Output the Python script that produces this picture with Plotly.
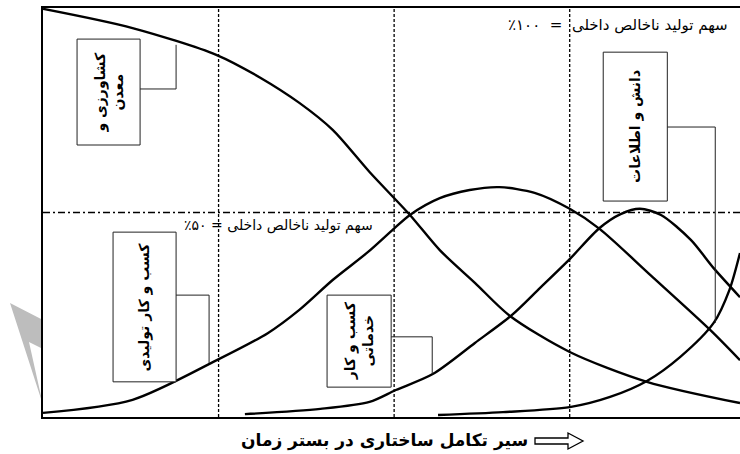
import plotly.graph_objects as go

# stages of structural change on x (0..4), share of GDP (%) on y
X_MAX = 3.97
STAGE_BOUNDS = [1, 2, 3]
HALF_SHARE = 50

agri_x = [0, 0.51, 0.99, 1.24, 1.46, 1.65, 1.86, 2.09, 2.26, 2.46, 2.66, 3.0, 3.44, 3.97]
agri_y = [99.8, 95.1, 88.5, 82.9, 76.8, 70.2, 59.9, 49.4, 40.8, 32.8, 24.7, 15.9, 8.6, 3.4]

manuf_x = [0, 0.51, 0.99, 1.28, 1.46, 1.65, 1.85, 1.99, 2.09, 2.26, 2.43, 2.6, 2.8, 3.0, 3.17, 3.46, 3.8, 3.97]
manuf_y = [1.0, 4.2, 13.9, 20.5, 26.2, 33.5, 40.3, 45.7, 49.4, 53.5, 55.5, 56.2, 54.8, 50.9, 46.0, 34.7, 21.3, 13.9]

serv_x = [1.15, 1.58, 1.86, 2.01, 2.22, 2.46, 2.67, 2.83, 3.0, 3.17, 3.29, 3.4, 3.52, 3.69, 3.82, 3.97]
serv_y = [0.7, 2.0, 3.7, 6.6, 10.5, 18.1, 24.9, 31.5, 38.6, 46.2, 49.6, 50.9, 49.4, 43.3, 36.4, 29.3]

know_x = [2.25, 2.62, 3.0, 3.23, 3.44, 3.63, 3.82, 3.91, 3.97]
know_y = [0.5, 1.2, 2.4, 4.9, 8.8, 14.7, 23.0, 31.1, 40.1]

SERIES = [
    ('کشاورزی و معدن', agri_x, agri_y),
    ('کسب و کار تولیدی', manuf_x, manuf_y),
    ('کسب و کار خدماتی', serv_x, serv_y),
    ('دانش و اطلاعات', know_x, know_y),
]

# label boxes: text, (x0, x1, y0, y1), connector (y on box edge, x of elbow, y on curve)
BOXES = [
    ('کشاورزی و<br>معدن', (0.194, 0.553, 66.5, 92.4), (80.2, 0.758, 91.0)),
    ('کسب و کار تولیدی', (0.399, 0.758, 8.6, 45.2), (29.8, 0.946, 13.2)),
    ('کسب و کار<br>خدماتی', (1.618, 1.983, 7.3, 29.8), (19.6, 2.217, 10.5)),
    ('دانش و اطلاعات', (3.191, 3.556, 52.8, 89.2), (70.9, 3.829, 23.0)),
]

RLM = '\u200f'
FULL_LABEL = 'سهم تولید ناخالص داخلی  =  ۱۰۰٪'
HALF_LABEL = 'سهم تولید ناخالص داخلی = ۵۰٪'
CAPTION = 'سیر تکامل ساختاری در بستر زمان'

FA_FONT = 'DejaVu Sans'

L, R, T, B = 43, 0, 8, 37
W, H = 740, 454


def paper(px, py):
    # pixel position -> paper coords (for decorations outside the axes)
    return (px - L) / (W - L - R), (H - B - py) / (H - T - B)


fig = go.Figure()

for name, xs, ys in SERIES:
    fig.add_trace(go.Scatter(x=xs, y=ys, mode='lines', name=name,
                             line=dict(color='black', width=2.4, shape='spline', smoothing=0.8),
                             hoverinfo='skip', showlegend=False))

for xb in STAGE_BOUNDS:
    fig.add_vline(x=xb, line=dict(color='black', width=1.3, dash='3px,2px'))
fig.add_hline(y=HALF_SHARE, line=dict(color='black', width=1.3, dash='7px,3px,2px,3px'))

for text, (x0, x1, y0, y1), (yc, xe, ye) in BOXES:
    fig.add_shape(type='rect', x0=x0, x1=x1, y0=y0, y1=y1,
                  line=dict(color='#222', width=1), fillcolor='white')
    fig.add_shape(type='path', path=f'M {x1},{yc} L {xe},{yc} L {xe},{ye}',
                  line=dict(color='#222', width=1))
    fig.add_annotation(x=(x0 + x1) / 2, y=(y0 + y1) / 2, text=text, textangle=-90,
                       showarrow=False, font=dict(family=FA_FONT, size=14, color='black', weight='bold'))

fig.add_annotation(x=3.915, y=95.8, xanchor='right', yanchor='middle', text=RLM + FULL_LABEL + RLM,
                   showarrow=False, font=dict(family=FA_FONT, size=15, color='black'))
fig.add_annotation(x=1.89, y=46.9, xanchor='right', yanchor='middle', text=RLM + HALF_LABEL + RLM,
                   showarrow=False, font=dict(family=FA_FONT, size=14, color='black'))

cx, cy = paper(384, 440)
fig.add_annotation(xref='paper', yref='paper', x=cx, y=cy, xanchor='center', yanchor='middle',
                   text=CAPTION, showarrow=False,
                   font=dict(family=FA_FONT, size=17, color='black', weight='bold'))

# hollow arrow after the caption
arrow_px = [(535, 438), (568, 438), (568, 433), (583, 441), (568, 449), (568, 444), (535, 444)]
pts = [paper(a, b) for a, b in arrow_px]
fig.add_shape(type='path', xref='paper', yref='paper',
              path='M ' + ' L '.join(f'{a},{b}' for a, b in pts) + ' Z',
              line=dict(color='black', width=1.3), fillcolor='white')

# grey watermark piece left of the frame
wm_px = [(10, 303), (43, 320), (43, 349), (29, 342), (43, 405)]
pts = [paper(a, b) for a, b in wm_px]
fig.add_shape(type='path', xref='paper', yref='paper', layer='below',
              path='M ' + ' L '.join(f'{a},{b}' for a, b in pts) + ' Z',
              line=dict(width=0), fillcolor='#bdbdbd')

fig.update_xaxes(range=[0, X_MAX], showgrid=False, zeroline=False, showticklabels=False, ticks='',
                 showline=True, linecolor='black', linewidth=2, mirror=True)
fig.update_yaxes(range=[0, 100], showgrid=False, zeroline=False, showticklabels=False, ticks='',
                 showline=True, linecolor='black', linewidth=2)
fig.update_layout(width=W, height=H, margin=dict(l=L, r=R, t=T, b=B),
                  plot_bgcolor='white', paper_bgcolor='white')

# page has a default body margin; drop it so the figure sits at the window corner
fig.write_html('out.html', config={'displayModeBar': False},
               post_script="document.body.style.margin='0';")
